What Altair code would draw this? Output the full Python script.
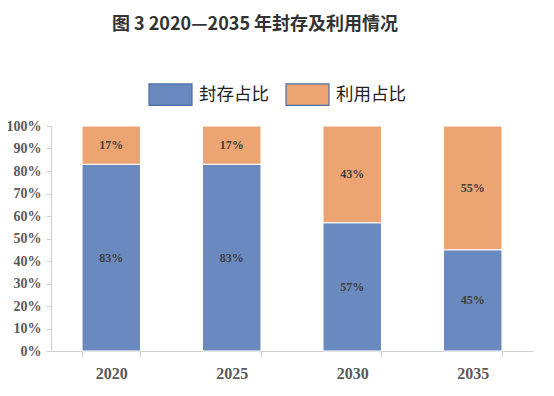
import altair as alt
import pandas as pd

years = ["2020", "2025", "2030", "2035"]
storage = [83, 83, 57, 45]      # 封存占比
utilization = [17, 17, 43, 55]  # 利用占比
series = ["封存占比", "利用占比"]
colors = ["#6A89BE", "#ECA472"]
y_ticks = [0, 10, 20, 30, 40, 50, 60, 70, 80, 90, 100]

rows = []
for i, y in enumerate(years):
    rows.append({"year": y, "series": series[0], "order": 0, "value": storage[i]})
    rows.append({"year": y, "series": series[1], "order": 1, "value": utilization[i]})
df = pd.DataFrame(rows)

serif = "Liberation Serif"
sans = "Noto Sans CJK SC"

base = alt.Chart(df).transform_stack(
    stack="value", as_=["y0", "y1"], groupby=["year"], sort=[alt.SortField("order")]
).transform_calculate(mid="(datum.y0 + datum.y1) / 2")

x_axis = alt.Axis(
    title=None, labelAngle=0, labelFont=serif, labelFontSize=16,
    labelFontWeight="bold", labelColor="#595959", labelPadding=8,
    domainColor="#D0D0D0", tickColor="#D0D0D0", tickSize=6,
    tickBand="extent", labelBaseline="top",
)
x_scale = alt.Scale(paddingInner=0.515, paddingOuter=0.2575)

y_axis = alt.Axis(
    title=None, values=y_ticks, tickCount=11, labelExpr="datum.value + '%'",
    labelOverlap=False,
    labelFont=serif, labelFontSize=14, labelFontWeight="bold",
    labelColor="#595959", labelPadding=5, tickSize=5,
    domainColor="#D0D0D0", tickColor="#D0D0D0", grid=False,
)
y_scale = alt.Scale(domain=[0, 100], nice=False)

bars = base.mark_bar(stroke="white", strokeWidth=1).encode(
    x=alt.X("year:N", sort=years, scale=x_scale, axis=x_axis),
    y=alt.Y("y0:Q", scale=y_scale, axis=y_axis),
    y2="y1:Q",
    color=alt.Color(
        "series:N", sort=series,
        scale=alt.Scale(domain=series, range=colors),
        legend=alt.Legend(
            title=None, orient="none", direction="horizontal",
            legendX=97, legendY=-54, padding=0,
            symbolType="M-1,-0.5H1V0.5H-1Z", symbolSize=1849,
            symbolStrokeColor="#4A6FA8", symbolStrokeWidth=1.2,
            symbolOpacity=1,
            labelFont=sans, labelFontSize=17.5, labelColor="#222222",
            labelOffset=6, columnPadding=14,
        ),
    ),
    order=alt.Order("order:Q"),
)

labels = base.mark_text(
    font=serif, fontSize=12, fontWeight="bold", color="#404040", baseline="middle"
).encode(
    x=alt.X("year:N", sort=years, scale=x_scale, axis=x_axis),
    y=alt.Y("mid:Q", scale=y_scale, axis=y_axis),
    text=alt.Text("label:N"),
).transform_calculate(label="datum.value + '%'")

chart = alt.layer(bars, labels).properties(
    width=482, height=225,
    autosize=alt.AutoSizeParams(type="none"),
    padding={"left": 43, "top": 118, "right": 13, "bottom": 37},
    title=alt.TitleParams(
        "图 3 2020—2035 年封存及利用情况", font=sans, fontSize=18,
        fontWeight="bold", color="#333333", anchor="middle", dx=-37, offset=38,
    ),
).configure_view(stroke=None)

chart.save("out.html", embed_options={"renderer": "svg", "actions": False})
